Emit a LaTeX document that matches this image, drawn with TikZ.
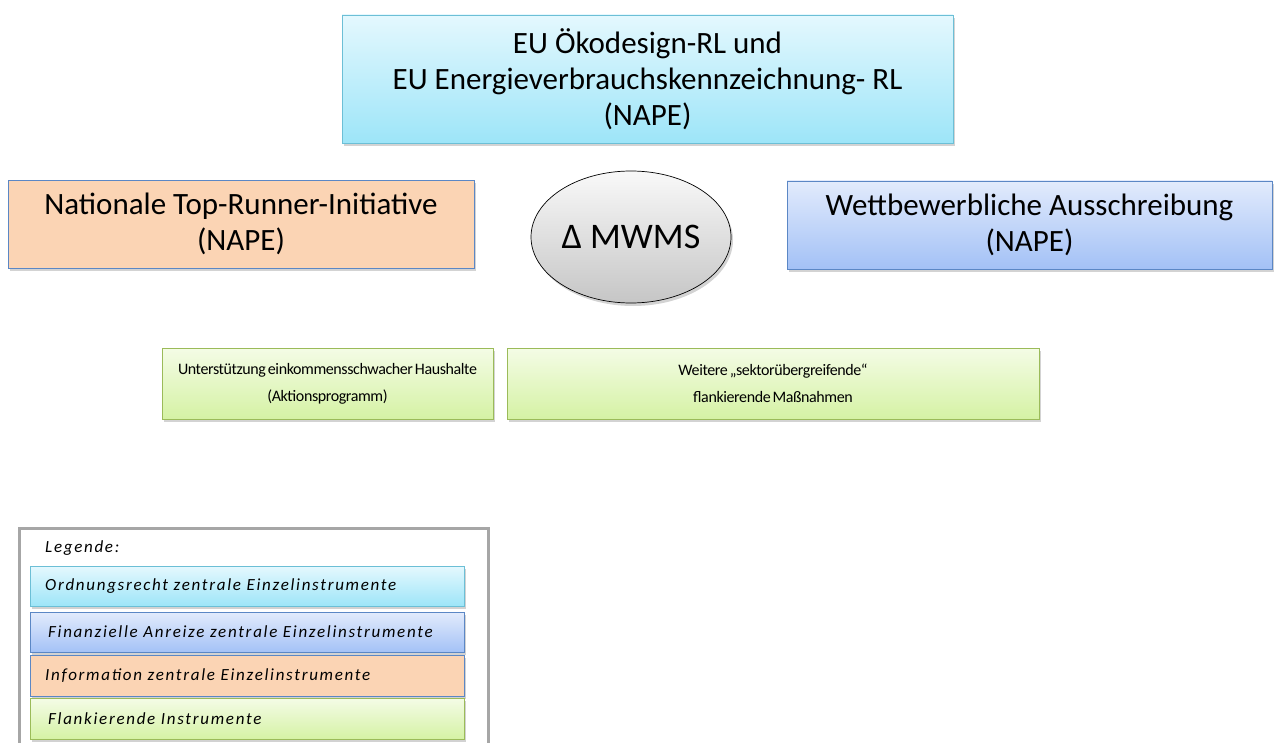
\documentclass[tikz,border=0pt]{standalone}
\usepackage{fontspec}
\setmainfont{Carlito}
\newfontfamily\legendfont[LetterSpace=10]{Carlito}
\newfontfamily\smallfont[LetterSpace=-2.5,WordSpace=0.6]{Carlito}
\usetikzlibrary{shapes.geometric,shadows}

\definecolor{ordTop}{HTML}{E4F8FE}
\definecolor{ordBot}{HTML}{9DE5F8}
\definecolor{ordLine}{HTML}{6CBFD6}
\definecolor{finTop}{HTML}{E2EBFC}
\definecolor{finBot}{HTML}{A3C1F6}
\definecolor{boxLine}{HTML}{5B87C5}
\definecolor{infFill}{HTML}{FBD4B4}
\definecolor{flaTop}{HTML}{F4FCE6}
\definecolor{flaBot}{HTML}{D5F2A4}
\definecolor{flaLine}{HTML}{9BBB59}
\definecolor{frameGray}{HTML}{A6A6A6}

\tikzset{
  x=1pt, y=-1pt,
  boxshadow/.style={drop shadow={opacity=0.35, shadow xshift=2pt, shadow yshift=-3pt}},
  base/.style={rectangle, align=center, inner sep=0pt, line width=0.8pt, boxshadow},
  ordbox/.style={base, draw=ordLine, top color=ordTop, bottom color=ordBot},
  finbox/.style={base, draw=boxLine, top color=finTop, bottom color=finBot},
  infbox/.style={base, draw=boxLine, fill=infFill},
  flabox/.style={base, draw=flaLine, top color=flaTop, bottom color=flaBot},
  bigtext/.style={font=\fontsize{31}{36}\selectfont},
  midtext/.style={font=\smallfont\fontsize{16}{27}\selectfont},
  legtext/.style={font=\legendfont\itshape\fontsize{17}{20}\selectfont, anchor=west, inner sep=0pt},
}

\begin{document}
\begin{tikzpicture}
\useasboundingbox (0,0) rectangle (1274,743);
\clip (0,0) rectangle (1274,743);

% Main instrument boxes
\node[ordbox, bigtext, minimum width=611pt, minimum height=128pt] (eu) at (647.5,79)
  {EU Ökodesign-RL und\\EU Energieverbrauchskennzeichnung- RL\\(NAPE)};
\node[infbox, bigtext, minimum width=466pt, minimum height=88pt] (top) at (241,224)
  {Nationale Top-Runner-Initiative\\(NAPE)};
\node[finbox, bigtext, minimum width=485pt, minimum height=88pt] (wett) at (1029.5,225)
  {Wettbewerbliche Ausschreibung\\(NAPE)};

% Central ellipse
\node[ellipse, draw=black, line width=0.7pt, top color=white!95!gray, bottom color=gray!45,
      minimum width=200pt, minimum height=132pt, inner sep=0pt, boxshadow,
      font=\fontsize{36}{40}\selectfont] (mwms) at (631,237) {Δ MWMS};

% Flanking measures
\node[flabox, midtext, minimum width=331pt, minimum height=71pt] (haus) at (327.5,383.5)
  {Unterstützung einkommensschwacher Haushalte\\(Aktionsprogramm)};
\node[flabox, midtext, minimum width=532pt, minimum height=71pt] (weit) at (773,383.5)
  {Weitere „sektorübergreifende“\\flankierende Maßnahmen};

% Legend
\node[draw=frameGray, line width=3pt, fill=white, minimum width=469pt, minimum height=240pt,
      anchor=north west, inner sep=0pt] (legframe) at (18,527) {};
\node[legtext] (leghead) at (45,548) {Legende:};
\node[ordbox, minimum width=434pt, minimum height=40pt, anchor=north west] (l1) at (30,566) {};
\node[finbox, minimum width=434pt, minimum height=40pt, anchor=north west] (l2) at (30,612) {};
\node[infbox, minimum width=434pt, minimum height=41pt, anchor=north west] (l3) at (30,655) {};
\node[flabox, minimum width=434pt, minimum height=41pt, anchor=north west] (l4) at (30,698) {};
\node[legtext] (t1) at (45,586) {Ordnungsrecht zentrale Einzelinstrumente};
\node[legtext] (t2) at (48,632) {Finanzielle Anreize zentrale Einzelinstrumente};
\node[legtext] (t3) at (45,675.5) {Information zentrale Einzelinstrumente};
\node[legtext] (t4) at (48,718.5) {Flankierende Instrumente};
\end{tikzpicture}
\end{document}
